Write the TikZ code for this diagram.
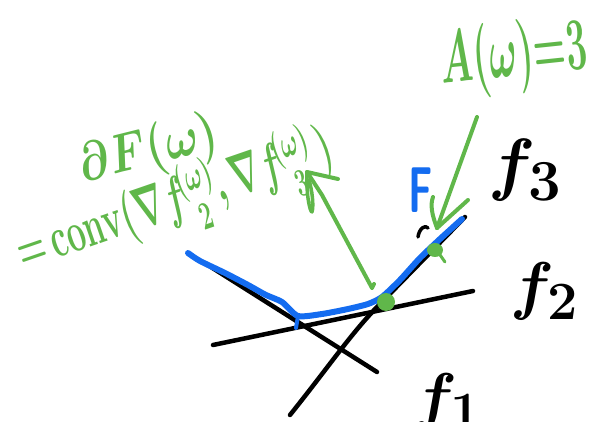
\documentclass[tikz,border=0pt]{standalone}
\usepackage{amsmath}
\definecolor{pgreen}{RGB}{96,183,74}
\definecolor{pblue}{RGB}{20,108,240}
\begin{document}
\begin{tikzpicture}[x=1pt,y=-1pt,line cap=round,line join=round,
  blk/.style={draw=black,line width=4.5pt},
  blu/.style={draw=pblue,line width=6pt},
  grn/.style={draw=pgreen,line width=4pt},
  glbl/.style={text=pgreen,inner sep=0pt,font=\Huge\boldmath},
  klbl/.style={text=black,inner sep=0pt,font=\Huge\boldmath,anchor=base west}]
\useasboundingbox (0,0) rectangle (592,422);
% black lines f1, f2, f3
\draw[blk] (203,262) -- (377,372);
\draw[blk] (213,345) -- (473,291);
\draw[blk] (290,415) .. controls (330,365) and (350,335) .. (377,307) -- (465,217);
\draw[draw=black,line width=3.5pt] (418,237) .. controls (419,229) and (425,224) .. (428,228);
% blue curve F
\draw[blu] plot[smooth,tension=0.4] coordinates {(188,253) (200,261) (225,273) (248,285) (266,295) (282,302) (298,316) (322,314) (348,309) (368,304) (382,297) (400,280) (420,258) (440,239) (462,219)};
\draw[draw=pblue,line width=4pt] (298,316) -- (296,328);
% green blobs
\fill[pgreen] (386,302) ellipse [x radius=9pt,y radius=9pt];
\fill[pgreen] (435,250) ellipse [x radius=8pt,y radius=7pt];
\draw[draw=pgreen,line width=3pt] (438,252) -- (445,262);
% arrow 1
\coordinate (t1) at (307,172);
\coordinate (e1) at (372,288);
\draw[grn] (e1) -- ++(2,-4) (e1) -- (322,195) -- (t1);
\draw[grn] (t1) -- (338,179);
\draw[draw=pgreen,line width=3.5pt] (t1) .. controls (306,195) and (310,212) .. (312,212) .. controls (314,205) and (312,190) .. (309,180);
% arrow 2
\coordinate (s2) at (477,117);
\coordinate (t2) at (437,228);
\draw[grn] (s2) -- (t2);
\draw[grn] (t2) -- (468,200);
\draw[grn] (t2) .. controls (432,215) and (430,205) .. (433,197);
% labels
\node[glbl,anchor=base,rotate=14,xscale=1.8,yscale=2.2] (dF) at (152,165) {$\partial F(\omega)$};
\node[glbl,anchor=base,rotate=19,xscale=1.32,yscale=2.3] (conv) at (180,216) {${=}\,\mathrm{conv}(\nabla f\mkern-3mu\substack{\scriptscriptstyle(\omega)\\\scriptscriptstyle 2},\nabla f\mkern-3mu\substack{\scriptscriptstyle(\omega)\\\scriptscriptstyle 3}\,)$};
\node[glbl,anchor=base,rotate=6,xscale=1.5,yscale=3.0] (A) at (516,76) {$A(\omega){=}3$};
\node[text=pblue,inner sep=0pt,font=\Huge\sffamily\bfseries,anchor=base,xscale=1.6,yscale=2.6] (F) at (421,213) {F};
\node[klbl,scale=2.8] (f3) at (488,188) {$f_3$};
\node[klbl,scale=2.6] (f2) at (510,308) {$f_2$};
\node[klbl,scale=2.6] (f1) at (413,418) {$f_1$};
\end{tikzpicture}
\end{document}
